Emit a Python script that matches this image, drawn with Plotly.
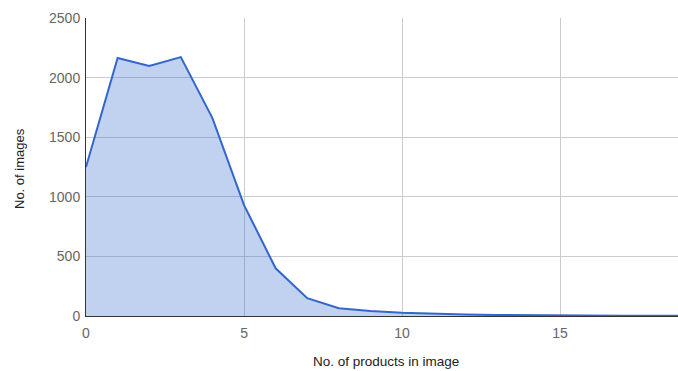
import plotly.graph_objects as go

products = list(range(0, 20))
images = [1250, 2165, 2097, 2172, 1660, 930, 400, 150, 65, 42, 28, 18, 12, 8, 5, 4, 3, 2, 2, 1]

x_ticks = [0, 5, 10, 15]
y_ticks = [0, 500, 1000, 1500, 2000, 2500]

fig = go.Figure()
fig.add_trace(go.Scatter(
    x=products, y=images, mode="lines",
    line=dict(color="#3366cc", width=2),
    fill="tozeroy", fillcolor="rgba(51,102,204,0.3)",
    hoverinfo="x+y",
))

pw = 678 - 86
ph = 371 - 18 - 55

fig.update_layout(
    width=678, height=371,
    margin=dict(l=86, r=0, t=18, b=55),
    paper_bgcolor="white", plot_bgcolor="white",
    showlegend=False,
    font=dict(family="Liberation Sans, Arial", size=14, color="#666666"),
    xaxis=dict(
        range=[0, 18.73], tickvals=x_ticks, ticktext=[str(v) for v in x_ticks],
        showgrid=True, gridcolor="#cccccc", gridwidth=1,
        showline=True, linecolor="#333333", linewidth=1,
        zeroline=False, ticks="", ticklen=0, ticklabelstandoff=4,
        tickfont=dict(size=14, color="#666666"),
    ),
    yaxis=dict(
        range=[0, 2500], tickvals=y_ticks, ticktext=[str(v) for v in y_ticks],
        showgrid=True, gridcolor="#cccccc", gridwidth=1,
        showline=True, linecolor="#333333", linewidth=1,
        zeroline=False, ticks="", ticklen=0, ticklabelstandoff=2,
        tickfont=dict(size=14, color="#666666"),
    ),
    annotations=[
        dict(text="No. of images", xref="paper", yref="paper",
             x=(19 - 86) / pw, y=(316 - 169) / ph,
             xanchor="center", yanchor="middle",
             showarrow=False, textangle=-90, font=dict(size=13, color="#222222")),
        dict(text="No. of products in image", xref="paper", yref="paper",
             x=(386 - 86) / pw, y=(316 - 361) / ph,
             xanchor="center", yanchor="middle",
             showarrow=False, font=dict(size=13.5, color="#222222")),
    ],
)

fig.write_html(
    "out.html",
    config={"displayModeBar": False},
    post_script="document.body.style.margin='0';document.body.style.overflow='hidden';",
)
